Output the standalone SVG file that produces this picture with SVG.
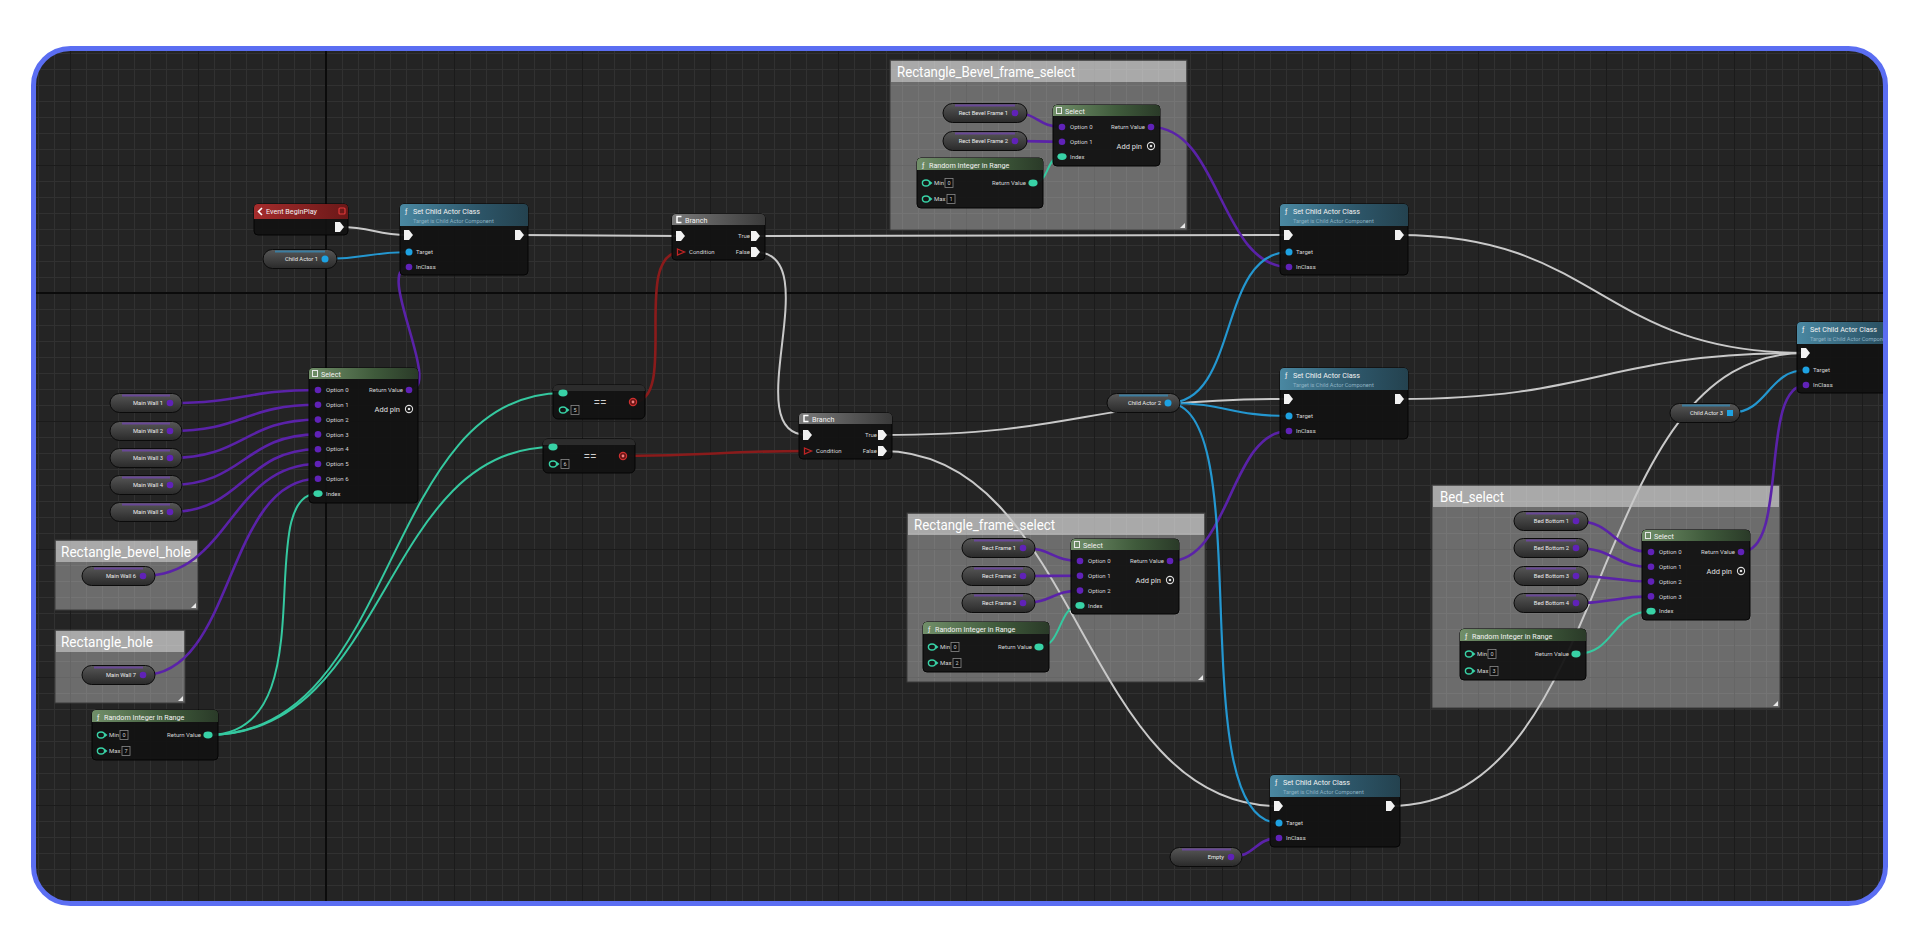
<svg xmlns="http://www.w3.org/2000/svg" xmlns:xlink="http://www.w3.org/1999/xlink" width="1920" height="948" viewBox="0 0 1920 948">
<defs>
<style>
.t{font-family:Roboto,"Liberation Sans",sans-serif;}
.title{font-size:7.2px;fill:#f2f2f2;}
.sub{font-size:5.6px;fill:#8fb3c4;}
.pin{font-size:6px;fill:#d6d6d6;}
.val{font-size:5.5px;fill:#cfcfcf;text-anchor:middle;}
.addp{font-size:7.5px;fill:#e0e0e0;text-anchor:end;}
.var{font-size:5.8px;fill:#ececec;text-anchor:end;}
.ctitle{font-size:14px;fill:#ffffff;}
.eq{font-size:12px;fill:#d0d0d0;text-anchor:middle;}
.body{fill:#121212;fill-opacity:0.94;stroke:#050505;stroke-width:1;}
.cbody{fill:#ffffff;fill-opacity:0.33;stroke:#3a3a3a;stroke-width:1;}
.chead{fill:#ffffff;fill-opacity:0.42;}
.corner{fill:#e8e8e8;}
.pill{fill:url(#gVar);stroke:#0b0b0b;stroke-width:1;}
.glowC{stroke:#7b3fd0;stroke-opacity:0.55;stroke-width:2;fill:none;}
.glowO{stroke:#2aa0e0;stroke-opacity:0.55;stroke-width:2;fill:none;}
.w{fill:none;stroke-linecap:round;}
.wex{stroke:#c9c9c9;stroke-width:2;}
.wcl{stroke:#5a22a8;stroke-width:2.6;}
.wint{stroke:#35c9a0;stroke-width:2;}
.wobj{stroke:#2497d0;stroke-width:2.2;}
.wbool{stroke:#8a1b1b;stroke-width:2.6;}
</style>
<linearGradient id="gSet" x1="0" y1="0" x2="1" y2="0"><stop offset="0" stop-color="#4a88a2"/><stop offset="0.6" stop-color="#2d5669"/><stop offset="1" stop-color="#24424f"/></linearGradient>
<linearGradient id="gSel" x1="0" y1="0" x2="1" y2="0"><stop offset="0" stop-color="#718f69"/><stop offset="0.6" stop-color="#3f5a3b"/><stop offset="1" stop-color="#2a3a28"/></linearGradient>
<linearGradient id="gBr" x1="0" y1="0" x2="1" y2="0"><stop offset="0" stop-color="#7a7a7a"/><stop offset="1" stop-color="#3a3a3a"/></linearGradient>
<linearGradient id="gEv" x1="0" y1="0" x2="1" y2="0"><stop offset="0" stop-color="#a52c2c"/><stop offset="1" stop-color="#6a1818"/></linearGradient>
<linearGradient id="gVar" x1="0" y1="0" x2="0" y2="1"><stop offset="0" stop-color="#575757"/><stop offset="1" stop-color="#2a2a2a"/></linearGradient>
<pattern id="grid" width="16" height="16" patternUnits="userSpaceOnUse" x="6" y="5"><path d="M0 0.5 H16 M0.5 0 V16" stroke="#313131" stroke-width="1" fill="none"/></pattern>
<pattern id="gridM" width="128" height="128" patternUnits="userSpaceOnUse" x="70" y="37"><path d="M0 0.5 H128 M0.5 0 V128" stroke="#1b1b1b" stroke-width="1" fill="none"/></pattern>
<clipPath id="frameClip"><rect x="33.5" y="48.5" width="1852" height="855" rx="37"/></clipPath>
<path id="exec" d="M-4 -5 H1 L5 0 L1 5 H-4 Z" fill="#f2f2f2"/>
<circle id="pObj" r="3.5" fill="#1ea2e2"/>
<circle id="pCls" r="3.3" fill="#6022b8"/>
<ellipse id="pInt" rx="4.6" ry="3.4" fill="#38d2a6"/>
<g id="pIntH"><ellipse rx="3.6" ry="3" fill="none" stroke="#38d2a6" stroke-width="1.4"/><path d="M4 -2 L6.5 0 L4 2 Z" fill="#38d2a6"/></g>
<g id="pBoolH"><path d="M-3.5 -3 L3.5 0 L-3.5 3 Z" fill="none" stroke="#c02424" stroke-width="1.3"/></g>
<g id="pBool"><circle r="3.6" fill="#6a1414" stroke="#d03030" stroke-width="1.2"/><circle r="1.4" fill="#f08080"/></g>
</defs>

<rect width="1920" height="948" fill="#ffffff"/>
<rect x="33.5" y="48.5" width="1852" height="855" rx="37" fill="#242424"/>
<g clip-path="url(#frameClip)">
<rect x="31" y="46" width="1858" height="860" fill="url(#grid)"/>
<rect x="31" y="46" width="1858" height="860" fill="url(#gridM)"/>
<path d="M326 46 V906 M31 293 H1889" stroke="#0b0b0b" stroke-width="2"/>

<!-- comments -->
<g id="comment-rectangle-bevel-hole">
<rect class="cbody" x="55" y="540" width="143" height="70"/>
<rect class="chead" x="56" y="541" width="141" height="21"/>
<text class="t ctitle" x="61" y="557" textLength="130" lengthAdjust="spacingAndGlyphs">Rectangle_bevel_hole</text>
<path class="corner" d="M196 603 V608 H191 Z"/>
</g>
<g id="comment-rectangle-hole">
<rect class="cbody" x="55" y="630" width="130" height="73"/>
<rect class="chead" x="56" y="631" width="128" height="21"/>
<text class="t ctitle" x="61" y="647" textLength="92" lengthAdjust="spacingAndGlyphs">Rectangle_hole</text>
<path class="corner" d="M183 696 V701 H178 Z"/>
</g>
<g id="comment-rectangle-bevel-frame-select">
<rect class="cbody" x="890" y="60" width="297" height="170"/>
<rect class="chead" x="891" y="61" width="295" height="21"/>
<text class="t ctitle" x="897" y="77" textLength="178" lengthAdjust="spacingAndGlyphs">Rectangle_Bevel_frame_select</text>
<path class="corner" d="M1185 223 V228 H1180 Z"/>
</g>
<g id="comment-rectangle-frame-select">
<rect class="cbody" x="907" y="513" width="298" height="169"/>
<rect class="chead" x="908" y="514" width="296" height="21"/>
<text class="t ctitle" x="914" y="530" textLength="141" lengthAdjust="spacingAndGlyphs">Rectangle_frame_select</text>
<path class="corner" d="M1203 675 V680 H1198 Z"/>
</g>
<g id="comment-bed-select">
<rect class="cbody" x="1432" y="485" width="348" height="223"/>
<rect class="chead" x="1433" y="486" width="346" height="21"/>
<text class="t ctitle" x="1440" y="502" textLength="64" lengthAdjust="spacingAndGlyphs">Bed_select</text>
<path class="corner" d="M1778 701 V706 H1773 Z"/>
</g>

<!-- connectors -->
<g id="connectors" class="w">
<!-- exec -->
<path class="w wex" d="M339 227 C374 227 374 235 408 235"/>
<path class="w wex" d="M519 235 C600 235 600 236 680 236"/>
<path class="w wex" d="M755 236 C1000 236 1040 235 1288 235"/>
<path class="w wex" d="M755 252 C830 252 735 435 807 435"/>
<path class="w wex" d="M882 435 C1085 435 1085 399 1288 399"/>
<path class="w wex" d="M882 451 C1080 451 1080 806 1278 806"/>
<path class="w wex" d="M1399 235 C1600 235 1600 353 1805 353"/>
<path class="w wex" d="M1399 399 C1600 399 1600 353 1805 353"/>
<path class="w wex" d="M1389 806 C1620 806 1580 353 1805 353"/>
<!-- class (purple) -->
<path class="w wcl" d="M170 403 C244 403 244 390 318 390"/>
<path class="w wcl" d="M170 431 C244 431 244 404.8 318 404.8"/>
<path class="w wcl" d="M170 458 C244 458 244 419.6 318 419.6"/>
<path class="w wcl" d="M170 485 C244 485 244 434.4 318 434.4"/>
<path class="w wcl" d="M170 512 C244 512 244 449.2 318 449.2"/>
<path class="w wcl" d="M143 576 C230 576 230 464 318 464"/>
<path class="w wcl" d="M143 675 C235 675 225 478.8 318 478.8"/>
<path class="w wcl" d="M409 390 C445 390 373 267 409 267"/>
<path class="w wcl" d="M1015 113 C1038 113 1038 127 1062 127"/>
<path class="w wcl" d="M1015 141 C1038 141 1038 141.8 1062 141.8"/>
<path class="w wcl" d="M1151 127 C1220 127 1220 267 1289 267"/>
<path class="w wcl" d="M1023 548 C1052 548 1052 561 1080 561"/>
<path class="w wcl" d="M1023 576 C1052 576 1052 575.8 1080 575.8"/>
<path class="w wcl" d="M1023 603 C1052 603 1052 590.6 1080 590.6"/>
<path class="w wcl" d="M1170 561 C1230 561 1230 431 1289 431"/>
<path class="w wcl" d="M1576 521 C1614 521 1614 552 1651 552"/>
<path class="w wcl" d="M1576 548 C1614 548 1614 566.8 1651 566.8"/>
<path class="w wcl" d="M1576 576 C1614 576 1614 581.6 1651 581.6"/>
<path class="w wcl" d="M1576 603 C1614 603 1614 596.4 1651 596.4"/>
<path class="w wcl" d="M1741 552 C1790 552 1758 385 1806 385"/>
<path class="w wcl" d="M1231 857 C1255 857 1255 838 1279 838"/>
<!-- integer (teal) -->
<path class="w wint" d="M208 735 C330 735 250 493.6 318 493.6"/>
<path class="w wint" d="M208 735 C400 735 380 393 563 393"/>
<path class="w wint" d="M208 735 C390 735 380 447 553 447"/>
<path class="w wint" d="M1033 183 C1050 183 1045 156.6 1062 156.6"/>
<path class="w wint" d="M1039 647 C1062 647 1058 605.4 1080 605.4"/>
<path class="w wint" d="M1576 654 C1615 654 1612 611.2 1651 611.2"/>
<!-- object (blue) -->
<path class="w wobj" d="M325 259 C367 259 367 252 409 252"/>
<path class="w wobj" d="M1168 403 C1240 403 1217 252 1289 252"/>
<path class="w wobj" d="M1168 403 C1228 403 1228 416 1289 416"/>
<path class="w wobj" d="M1168 403 C1260 403 1180 823 1279 823"/>
<path class="w wobj" d="M1730 413 C1768 413 1768 370 1806 370"/>
<!-- boolean (red) -->
<path class="w wbool" d="M633 402 C680 402 630 252 681 252"/>
<path class="w wbool" d="M623 456 C715 456 715 451 808 451"/>
</g>

<!-- nodes -->
<g id="event-beginplay">
<rect class="body" x="254" y="204" width="94" height="31" rx="4"/>
<path fill="url(#gEv)" d="M254 208 Q254 204 258 204 H344 Q348 204 348 208 V219 H254 Z"/>
<path d="M262 208 L258.5 211.5 L262 215" stroke="#ffffff" stroke-width="1.6" fill="none"/>
<text class="t title" x="266" y="214.2">Event BeginPlay</text>
<rect x="339" y="208" width="6" height="6" rx="1" fill="none" stroke="#e03a3a" stroke-width="1.2"/>
<use href="#exec" x="339" y="227"/>
</g>

<g id="var-child-actor-1">
<rect class="pill" x="263" y="249.5" width="74" height="19" rx="9.5"/>
<path class="glowO" d="M275 251.5 H325"/>
<text class="t var" x="318" y="261.2">Child Actor 1</text>
<use href="#pObj" x="325" y="259"/>
</g>

<g id="set-child-actor-class-1" transform="translate(400 204)">
<rect class="body" width="128" height="71" rx="4"/>
<path fill="url(#gSet)" d="M0 4 Q0 0 4 0 H124 Q128 0 128 4 V22 H0 Z"/>
<text class="t title" x="5" y="10">ƒ</text>
<text class="t title" x="13" y="10">Set Child Actor Class</text>
<text class="t sub" x="13" y="18.5">Target is Child Actor Component</text>
<use href="#exec" x="8" y="31"/><use href="#exec" x="119" y="31"/>
<use href="#pObj" x="9" y="48"/><text class="t pin" x="16" y="50.2">Target</text>
<use href="#pCls" x="9" y="63"/><text class="t pin" x="16" y="65.2">InClass</text>
</g>

<g id="var-main-wall-1"><rect class="pill" x="110" y="393.5" width="72" height="19" rx="9.5"/><path class="glowC" d="M122 395.5 H170"/><text class="t var" x="163" y="405.2">Main Wall 1</text><use href="#pCls" x="170" y="403"/></g>
<g id="var-main-wall-2"><rect class="pill" x="110" y="421.5" width="72" height="19" rx="9.5"/><path class="glowC" d="M122 423.5 H170"/><text class="t var" x="163" y="433.2">Main Wall 2</text><use href="#pCls" x="170" y="431"/></g>
<g id="var-main-wall-3"><rect class="pill" x="110" y="448.5" width="72" height="19" rx="9.5"/><path class="glowC" d="M122 450.5 H170"/><text class="t var" x="163" y="460.2">Main Wall 3</text><use href="#pCls" x="170" y="458"/></g>
<g id="var-main-wall-4"><rect class="pill" x="110" y="475.5" width="72" height="19" rx="9.5"/><path class="glowC" d="M122 477.5 H170"/><text class="t var" x="163" y="487.2">Main Wall 4</text><use href="#pCls" x="170" y="485"/></g>
<g id="var-main-wall-5"><rect class="pill" x="110" y="502.5" width="72" height="19" rx="9.5"/><path class="glowC" d="M122 504.5 H170"/><text class="t var" x="163" y="514.2">Main Wall 5</text><use href="#pCls" x="170" y="512"/></g>
<g id="var-main-wall-6"><rect class="pill" x="82" y="566.5" width="73" height="19" rx="9.5"/><path class="glowC" d="M94 568.5 H143"/><text class="t var" x="136" y="578.2">Main Wall 6</text><use href="#pCls" x="143" y="576"/></g>
<g id="var-main-wall-7"><rect class="pill" x="82" y="665.5" width="73" height="19" rx="9.5"/><path class="glowC" d="M94 667.5 H143"/><text class="t var" x="136" y="677.2">Main Wall 7</text><use href="#pCls" x="143" y="675"/></g>

<g id="select-main" transform="translate(309 368)">
<rect class="body" width="109" height="135" rx="4"/>
<path fill="url(#gSel)" d="M0 4 Q0 0 4 0 H105 Q109 0 109 4 V11 H0 Z"/>
<rect x="3.5" y="2.5" width="5" height="6" fill="none" stroke="#e8e8e8" stroke-width="1"/>
<text class="t title" x="12" y="8.5">Select</text>
<use href="#pCls" x="9" y="22"/><text class="t pin" x="17" y="24.2">Option 0</text>
<use href="#pCls" x="9" y="36.8"/><text class="t pin" x="17" y="39">Option 1</text>
<use href="#pCls" x="9" y="51.6"/><text class="t pin" x="17" y="53.8">Option 2</text>
<use href="#pCls" x="9" y="66.4"/><text class="t pin" x="17" y="68.6">Option 3</text>
<use href="#pCls" x="9" y="81.2"/><text class="t pin" x="17" y="83.4">Option 4</text>
<use href="#pCls" x="9" y="96"/><text class="t pin" x="17" y="98.2">Option 5</text>
<use href="#pCls" x="9" y="110.8"/><text class="t pin" x="17" y="113">Option 6</text>
<use href="#pInt" x="9" y="125.6"/><text class="t pin" x="17" y="127.8">Index</text>
<text class="t pin" x="94" y="24.2" text-anchor="end">Return Value</text><use href="#pCls" x="100" y="22"/>
<text class="t addp" x="91" y="43.5">Add pin</text>
<circle cx="100" cy="41" r="3.6" fill="none" stroke="#dddddd" stroke-width="1.1"/><circle cx="100" cy="41" r="1.3" fill="#dddddd"/>
</g>

<g id="random-int-main" transform="translate(92 710)">
<rect class="body" width="126" height="50" rx="4"/>
<path fill="url(#gSel)" d="M0 4 Q0 0 4 0 H122 Q126 0 126 4 V12 H0 Z"/>
<text class="t title" x="5" y="9.5">ƒ</text>
<text class="t title" x="12" y="9.5">Random Integer in Range</text>
<use href="#pIntH" x="9" y="25"/><text class="t pin" x="17" y="27.2">Min</text>
<rect x="28" y="20.5" width="8" height="9" fill="#0e0e0e" stroke="#8a8a8a" stroke-width="0.8"/><text class="t val" x="32" y="27.3">0</text>
<use href="#pIntH" x="9" y="41"/><text class="t pin" x="17" y="43.2">Max</text>
<rect x="30" y="36.5" width="8" height="9" fill="#0e0e0e" stroke="#8a8a8a" stroke-width="0.8"/><text class="t val" x="34" y="43.3">7</text>
<text class="t pin" x="109" y="27.2" text-anchor="end">Return Value</text><use href="#pInt" x="116" y="25"/>
</g>

<g id="equal-1" transform="translate(553 385)">
<rect class="body" width="92" height="34" rx="5"/>
<path fill="#2c2c2c" d="M0 5 Q0 0 5 0 H87 Q92 0 92 5 V6 H0 Z"/>
<use href="#pInt" x="10" y="8"/>
<use href="#pIntH" x="10" y="25"/>
<rect x="18" y="20.5" width="8" height="9" fill="#0e0e0e" stroke="#8a8a8a" stroke-width="0.8"/><text class="t val" x="22" y="27.3">5</text>
<text class="t eq" x="47" y="21.5">==</text>
<use href="#pBool" x="80" y="17"/>
</g>
<g id="equal-2" transform="translate(543 439)">
<rect class="body" width="92" height="34" rx="5"/>
<path fill="#2c2c2c" d="M0 5 Q0 0 5 0 H87 Q92 0 92 5 V6 H0 Z"/>
<use href="#pInt" x="10" y="8"/>
<use href="#pIntH" x="10" y="25"/>
<rect x="18" y="20.5" width="8" height="9" fill="#0e0e0e" stroke="#8a8a8a" stroke-width="0.8"/><text class="t val" x="22" y="27.3">6</text>
<text class="t eq" x="47" y="21.5">==</text>
<use href="#pBool" x="80" y="17"/>
</g>

<g id="branch-1" transform="translate(672 214)">
<rect class="body" width="93" height="46" rx="4"/>
<path fill="url(#gBr)" d="M0 4 Q0 0 4 0 H89 Q93 0 93 4 V11 H0 Z"/>
<path d="M9.5 2.5 H5 V8.5 H9.5" stroke="#ffffff" stroke-width="1.5" fill="none"/>
<text class="t title" x="13" y="8.5">Branch</text>
<use href="#exec" x="8" y="22"/>
<use href="#pBoolH" x="9" y="38"/><text class="t pin" x="17" y="40.2">Condition</text>
<text class="t pin" x="78" y="24.2" text-anchor="end">True</text><use href="#exec" x="83" y="22"/>
<text class="t pin" x="78" y="40.2" text-anchor="end">False</text><use href="#exec" x="83" y="38"/>
</g>
<g id="branch-2" transform="translate(799 413)">
<rect class="body" width="93" height="46" rx="4"/>
<path fill="url(#gBr)" d="M0 4 Q0 0 4 0 H89 Q93 0 93 4 V11 H0 Z"/>
<path d="M9.5 2.5 H5 V8.5 H9.5" stroke="#ffffff" stroke-width="1.5" fill="none"/>
<text class="t title" x="13" y="8.5">Branch</text>
<use href="#exec" x="8" y="22"/>
<use href="#pBoolH" x="9" y="38"/><text class="t pin" x="17" y="40.2">Condition</text>
<text class="t pin" x="78" y="24.2" text-anchor="end">True</text><use href="#exec" x="83" y="22"/>
<text class="t pin" x="78" y="40.2" text-anchor="end">False</text><use href="#exec" x="83" y="38"/>
</g>

<!-- Rectangle_Bevel_frame_select contents -->
<g id="var-rect-bevel-frame-1"><rect class="pill" x="943" y="103.5" width="84" height="19" rx="9.5"/><path class="glowC" d="M955 105.5 H1015"/><text class="t var" x="1008" y="115.2">Rect Bevel Frame 1</text><use href="#pCls" x="1015" y="113"/></g>
<g id="var-rect-bevel-frame-2"><rect class="pill" x="943" y="131.5" width="84" height="19" rx="9.5"/><path class="glowC" d="M955 133.5 H1015"/><text class="t var" x="1008" y="143.2">Rect Bevel Frame 2</text><use href="#pCls" x="1015" y="141"/></g>
<g id="select-bevel-frame" transform="translate(1053 105)">
<rect class="body" width="107" height="61" rx="4"/>
<path fill="url(#gSel)" d="M0 4 Q0 0 4 0 H103 Q107 0 107 4 V11 H0 Z"/>
<rect x="3.5" y="2.5" width="5" height="6" fill="none" stroke="#e8e8e8" stroke-width="1"/>
<text class="t title" x="12" y="8.5">Select</text>
<use href="#pCls" x="9" y="22"/><text class="t pin" x="17" y="24.2">Option 0</text>
<use href="#pCls" x="9" y="36.8"/><text class="t pin" x="17" y="39">Option 1</text>
<use href="#pInt" x="9" y="51.6"/><text class="t pin" x="17" y="53.8">Index</text>
<text class="t pin" x="92" y="24.2" text-anchor="end">Return Value</text><use href="#pCls" x="98" y="22"/>
<text class="t addp" x="89" y="43.5">Add pin</text>
<circle cx="98" cy="41" r="3.6" fill="none" stroke="#dddddd" stroke-width="1.1"/><circle cx="98" cy="41" r="1.3" fill="#dddddd"/>
</g>
<g id="random-int-bevel-frame" transform="translate(917 158)">
<rect class="body" width="126" height="50" rx="4"/>
<path fill="url(#gSel)" d="M0 4 Q0 0 4 0 H122 Q126 0 126 4 V12 H0 Z"/>
<text class="t title" x="5" y="9.5">ƒ</text>
<text class="t title" x="12" y="9.5">Random Integer in Range</text>
<use href="#pIntH" x="9" y="25"/><text class="t pin" x="17" y="27.2">Min</text>
<rect x="28" y="20.5" width="8" height="9" fill="#0e0e0e" stroke="#8a8a8a" stroke-width="0.8"/><text class="t val" x="32" y="27.3">0</text>
<use href="#pIntH" x="9" y="41"/><text class="t pin" x="17" y="43.2">Max</text>
<rect x="30" y="36.5" width="8" height="9" fill="#0e0e0e" stroke="#8a8a8a" stroke-width="0.8"/><text class="t val" x="34" y="43.3">1</text>
<text class="t pin" x="109" y="27.2" text-anchor="end">Return Value</text><use href="#pInt" x="116" y="25"/>
</g>

<g id="set-child-actor-class-2" transform="translate(1280 204)">
<rect class="body" width="128" height="71" rx="4"/>
<path fill="url(#gSet)" d="M0 4 Q0 0 4 0 H124 Q128 0 128 4 V22 H0 Z"/>
<text class="t title" x="5" y="10">ƒ</text>
<text class="t title" x="13" y="10">Set Child Actor Class</text>
<text class="t sub" x="13" y="18.5">Target is Child Actor Component</text>
<use href="#exec" x="8" y="31"/><use href="#exec" x="119" y="31"/>
<use href="#pObj" x="9" y="48"/><text class="t pin" x="16" y="50.2">Target</text>
<use href="#pCls" x="9" y="63"/><text class="t pin" x="16" y="65.2">InClass</text>
</g>
<g id="set-child-actor-class-3" transform="translate(1280 368)">
<rect class="body" width="128" height="71" rx="4"/>
<path fill="url(#gSet)" d="M0 4 Q0 0 4 0 H124 Q128 0 128 4 V22 H0 Z"/>
<text class="t title" x="5" y="10">ƒ</text>
<text class="t title" x="13" y="10">Set Child Actor Class</text>
<text class="t sub" x="13" y="18.5">Target is Child Actor Component</text>
<use href="#exec" x="8" y="31"/><use href="#exec" x="119" y="31"/>
<use href="#pObj" x="9" y="48"/><text class="t pin" x="16" y="50.2">Target</text>
<use href="#pCls" x="9" y="63"/><text class="t pin" x="16" y="65.2">InClass</text>
</g>

<g id="var-child-actor-2">
<rect class="pill" x="1107" y="393.5" width="73" height="19" rx="9.5"/>
<path class="glowO" d="M1119 395.5 H1168"/>
<text class="t var" x="1161" y="405.2">Child Actor 2</text>
<use href="#pObj" x="1168" y="403"/>
</g>

<!-- Rectangle_frame_select contents -->
<g id="var-rect-frame-1"><rect class="pill" x="962" y="538.5" width="73" height="19" rx="9.5"/><path class="glowC" d="M974 540.5 H1023"/><text class="t var" x="1016" y="550.2">Rect Frame 1</text><use href="#pCls" x="1023" y="548"/></g>
<g id="var-rect-frame-2"><rect class="pill" x="962" y="566.5" width="73" height="19" rx="9.5"/><path class="glowC" d="M974 568.5 H1023"/><text class="t var" x="1016" y="578.2">Rect Frame 2</text><use href="#pCls" x="1023" y="576"/></g>
<g id="var-rect-frame-3"><rect class="pill" x="962" y="593.5" width="73" height="19" rx="9.5"/><path class="glowC" d="M974 595.5 H1023"/><text class="t var" x="1016" y="605.2">Rect Frame 3</text><use href="#pCls" x="1023" y="603"/></g>
<g id="select-frame" transform="translate(1071 539)">
<rect class="body" width="108" height="75" rx="4"/>
<path fill="url(#gSel)" d="M0 4 Q0 0 4 0 H104 Q108 0 108 4 V11 H0 Z"/>
<rect x="3.5" y="2.5" width="5" height="6" fill="none" stroke="#e8e8e8" stroke-width="1"/>
<text class="t title" x="12" y="8.5">Select</text>
<use href="#pCls" x="9" y="22"/><text class="t pin" x="17" y="24.2">Option 0</text>
<use href="#pCls" x="9" y="36.8"/><text class="t pin" x="17" y="39">Option 1</text>
<use href="#pCls" x="9" y="51.6"/><text class="t pin" x="17" y="53.8">Option 2</text>
<use href="#pInt" x="9" y="66.4"/><text class="t pin" x="17" y="68.6">Index</text>
<text class="t pin" x="93" y="24.2" text-anchor="end">Return Value</text><use href="#pCls" x="99" y="22"/>
<text class="t addp" x="90" y="43.5">Add pin</text>
<circle cx="99" cy="41" r="3.6" fill="none" stroke="#dddddd" stroke-width="1.1"/><circle cx="99" cy="41" r="1.3" fill="#dddddd"/>
</g>
<g id="random-int-frame" transform="translate(923 622)">
<rect class="body" width="126" height="50" rx="4"/>
<path fill="url(#gSel)" d="M0 4 Q0 0 4 0 H122 Q126 0 126 4 V12 H0 Z"/>
<text class="t title" x="5" y="9.5">ƒ</text>
<text class="t title" x="12" y="9.5">Random Integer in Range</text>
<use href="#pIntH" x="9" y="25"/><text class="t pin" x="17" y="27.2">Min</text>
<rect x="28" y="20.5" width="8" height="9" fill="#0e0e0e" stroke="#8a8a8a" stroke-width="0.8"/><text class="t val" x="32" y="27.3">0</text>
<use href="#pIntH" x="9" y="41"/><text class="t pin" x="17" y="43.2">Max</text>
<rect x="30" y="36.5" width="8" height="9" fill="#0e0e0e" stroke="#8a8a8a" stroke-width="0.8"/><text class="t val" x="34" y="43.3">2</text>
<text class="t pin" x="109" y="27.2" text-anchor="end">Return Value</text><use href="#pInt" x="116" y="25"/>
</g>

<!-- Bed_select contents -->
<g id="var-bed-bottom-1"><rect class="pill" x="1514" y="511.5" width="74" height="19" rx="9.5"/><path class="glowC" d="M1526 513.5 H1576"/><text class="t var" x="1569" y="523.2">Bed Bottom 1</text><use href="#pCls" x="1576" y="521"/></g>
<g id="var-bed-bottom-2"><rect class="pill" x="1514" y="538.5" width="74" height="19" rx="9.5"/><path class="glowC" d="M1526 540.5 H1576"/><text class="t var" x="1569" y="550.2">Bed Bottom 2</text><use href="#pCls" x="1576" y="548"/></g>
<g id="var-bed-bottom-3"><rect class="pill" x="1514" y="566.5" width="74" height="19" rx="9.5"/><path class="glowC" d="M1526 568.5 H1576"/><text class="t var" x="1569" y="578.2">Bed Bottom 3</text><use href="#pCls" x="1576" y="576"/></g>
<g id="var-bed-bottom-4"><rect class="pill" x="1514" y="593.5" width="74" height="19" rx="9.5"/><path class="glowC" d="M1526 595.5 H1576"/><text class="t var" x="1569" y="605.2">Bed Bottom 4</text><use href="#pCls" x="1576" y="603"/></g>
<g id="select-bed" transform="translate(1642 530)">
<rect class="body" width="108" height="90" rx="4"/>
<path fill="url(#gSel)" d="M0 4 Q0 0 4 0 H104 Q108 0 108 4 V11 H0 Z"/>
<rect x="3.5" y="2.5" width="5" height="6" fill="none" stroke="#e8e8e8" stroke-width="1"/>
<text class="t title" x="12" y="8.5">Select</text>
<use href="#pCls" x="9" y="22"/><text class="t pin" x="17" y="24.2">Option 0</text>
<use href="#pCls" x="9" y="36.8"/><text class="t pin" x="17" y="39">Option 1</text>
<use href="#pCls" x="9" y="51.6"/><text class="t pin" x="17" y="53.8">Option 2</text>
<use href="#pCls" x="9" y="66.4"/><text class="t pin" x="17" y="68.6">Option 3</text>
<use href="#pInt" x="9" y="81.2"/><text class="t pin" x="17" y="83.4">Index</text>
<text class="t pin" x="93" y="24.2" text-anchor="end">Return Value</text><use href="#pCls" x="99" y="22"/>
<text class="t addp" x="90" y="43.5">Add pin</text>
<circle cx="99" cy="41" r="3.6" fill="none" stroke="#dddddd" stroke-width="1.1"/><circle cx="99" cy="41" r="1.3" fill="#dddddd"/>
</g>
<g id="random-int-bed" transform="translate(1460 629)">
<rect class="body" width="126" height="51" rx="4"/>
<path fill="url(#gSel)" d="M0 4 Q0 0 4 0 H122 Q126 0 126 4 V12 H0 Z"/>
<text class="t title" x="5" y="9.5">ƒ</text>
<text class="t title" x="12" y="9.5">Random Integer in Range</text>
<use href="#pIntH" x="9" y="25"/><text class="t pin" x="17" y="27.2">Min</text>
<rect x="28" y="20.5" width="8" height="9" fill="#0e0e0e" stroke="#8a8a8a" stroke-width="0.8"/><text class="t val" x="32" y="27.3">0</text>
<use href="#pIntH" x="9" y="42"/><text class="t pin" x="17" y="44.2">Max</text>
<rect x="30" y="37.5" width="8" height="9" fill="#0e0e0e" stroke="#8a8a8a" stroke-width="0.8"/><text class="t val" x="34" y="44.3">3</text>
<text class="t pin" x="109" y="27.2" text-anchor="end">Return Value</text><use href="#pInt" x="116" y="25"/>
</g>

<g id="var-child-actor-3">
<rect class="pill" x="1670" y="403.5" width="70" height="19" rx="9.5"/>
<path class="glowO" d="M1682 405.5 H1730"/>
<text class="t var" x="1723" y="415.2">Child Actor 3</text>
<rect x="1727" y="410" width="6" height="6" fill="#1ea2e2"/>
</g>

<g id="set-child-actor-class-final" transform="translate(1797 322)">
<rect class="body" width="128" height="71" rx="4"/>
<path fill="url(#gSet)" d="M0 4 Q0 0 4 0 H124 Q128 0 128 4 V22 H0 Z"/>
<text class="t title" x="5" y="10">ƒ</text>
<text class="t title" x="13" y="10">Set Child Actor Class</text>
<text class="t sub" x="13" y="18.5">Target is Child Actor Component</text>
<use href="#exec" x="8" y="31"/>
<use href="#pObj" x="9" y="48"/><text class="t pin" x="16" y="50.2">Target</text>
<use href="#pCls" x="9" y="63"/><text class="t pin" x="16" y="65.2">InClass</text>
</g>

<g id="set-child-actor-class-4" transform="translate(1270 775)">
<rect class="body" width="130" height="72" rx="4"/>
<path fill="url(#gSet)" d="M0 4 Q0 0 4 0 H126 Q130 0 130 4 V22 H0 Z"/>
<text class="t title" x="5" y="10">ƒ</text>
<text class="t title" x="13" y="10">Set Child Actor Class</text>
<text class="t sub" x="13" y="18.5">Target is Child Actor Component</text>
<use href="#exec" x="8" y="31"/><use href="#exec" x="120" y="31"/>
<use href="#pObj" x="9" y="48"/><text class="t pin" x="16" y="50.2">Target</text>
<use href="#pCls" x="9" y="63"/><text class="t pin" x="16" y="65.2">InClass</text>
</g>

<g id="var-empty">
<rect class="pill" x="1170" y="847.5" width="72" height="19" rx="9.5"/>
<path class="glowC" d="M1182 849.5 H1231"/>
<text class="t var" x="1224" y="859.2">Empty</text>
<use href="#pCls" x="1231" y="857"/>
</g>
</g>
<rect x="33.5" y="48.5" width="1852" height="855" rx="37" fill="none" stroke="#5b6ef2" stroke-width="5"/>
</svg>
